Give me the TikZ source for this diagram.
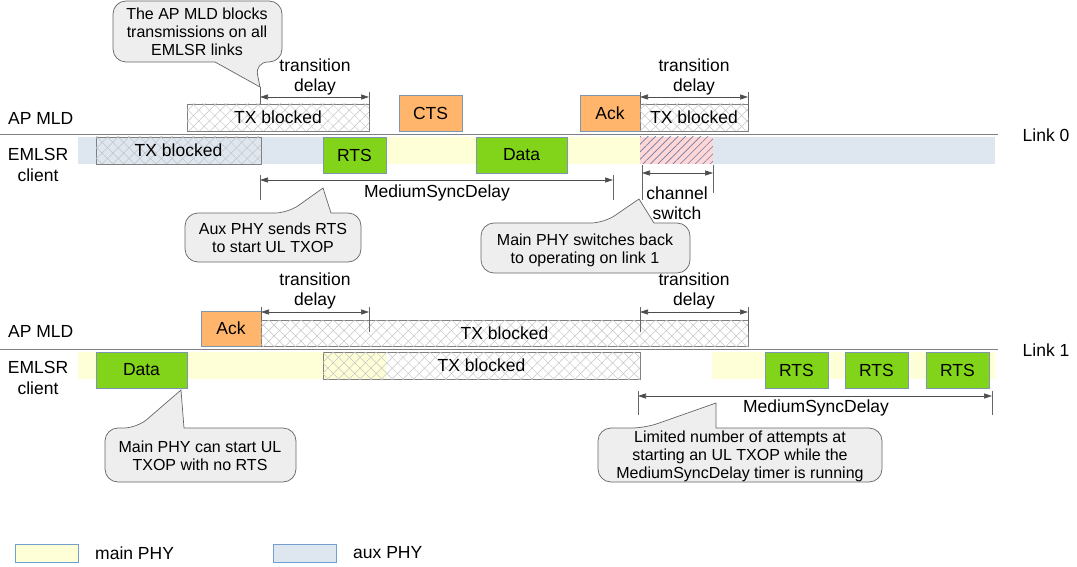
\documentclass[tikz,border=0pt]{standalone}
\usepackage{fontspec}
\setmainfont{Liberation Sans}
\usetikzlibrary{arrows.meta,patterns.meta}
\definecolor{yel}{HTML}{FFFFD7}
\definecolor{blu}{HTML}{DEE6EF}
\definecolor{grn}{HTML}{81D41A}
\definecolor{org}{HTML}{FFB66C}
\definecolor{pnk}{HTML}{FFD7D7}
\definecolor{hatchc}{HTML}{C4C4C4}
\definecolor{edge}{HTML}{808080}
\definecolor{pktedge}{HTML}{7F96B2}
\definecolor{callf}{HTML}{EEEEEE}
\definecolor{calld}{HTML}{666666}
\definecolor{legedge}{HTML}{729FCF}
\definecolor{slash}{HTML}{6A7BA0}
\begin{document}
\begin{tikzpicture}[x=1pt,y=-1pt,
 base/.style={rectangle, inner sep=0pt, outer sep=0pt, anchor=north west, font=\fontsize{17.5}{20.5}\selectfont, align=center},
 wh/.style 2 args={minimum width=#1pt, minimum height=#2pt},
 band/.style={base, draw=none},
 pkt/.style={base, draw=pktedge, line width=0.8pt, fill=grn},
 ctl/.style={base, draw=pktedge, line width=0.8pt, fill=org},
 blocked/.style={base, draw=edge, line width=0.8pt,
   postaction={pattern={Lines[angle=45,distance=7.6pt,line width=0.5pt]},pattern color=hatchc},
   postaction={pattern={Lines[angle=-45,distance=7.6pt,line width=0.5pt]},pattern color=hatchc}},
 switching/.style={base, fill=pnk, postaction={pattern={Lines[angle=45,distance=5.3pt,line width=0.6pt]},pattern color=slash}},
 lbl/.style={font=\fontsize{17.5}{20.5}\selectfont, align=center, inner sep=0pt},
 calltext/.style={font=\fontsize{16}{18}\selectfont, align=center, inner sep=0pt},
 callout/.style={fill=callf, draw=calld, line width=0.7pt, rounded corners=13pt},
 dim/.style={draw=black!70, line width=0.6pt, {Triangle[length=8pt,width=5pt]}-{Triangle[length=8pt,width=5pt]}},
 tickl/.style={draw=black!60, line width=0.6pt},
 divider/.style={draw=edge, line width=1pt},
 legbox/.style={base, draw=legedge, line width=0.8pt},
]
\useasboundingbox (0,0) rectangle (1077,567);

% ---------- dividers and link labels
\coordinate (d0a) at (0,135); \coordinate (d0b) at (998,135);
\coordinate (d1a) at (0,349); \coordinate (d1b) at (998,349);
\draw[divider] (d0a) -- (d0b);
\draw[divider] (d1a) -- (d1b);
\node[lbl] (link0) at (1046,135) {Link 0};
\node[lbl] (link1) at (1046,350) {Link 1};

% ---------- row labels
\node[lbl, anchor=west] (ap0) at (8,118) {AP MLD};
\node[lbl] (em0) at (38,165) {EMLSR\\client};
\node[lbl, anchor=west] (ap1) at (8,331) {AP MLD};
\node[lbl] (em1) at (38,378) {EMLSR\\client};

% ---------- link 0, EMLSR client
\node[band, fill=blu, wh={245}{27}] (b0blue) at (78,137) {};
\node[band, fill=yel, wh={317}{27}] (b0yel) at (323,137) {};
\node[switching, wh={73}{27}] (b0sw) at (640,137) {};
\node[band, fill=blu, wh={282}{27}] (b0blue2) at (713,137) {};
\node[blocked, wh={165}{27}] (blk0c) at (96,137) {TX blocked};
\node[pkt, wh={63}{36}] (rts0) at (323,137) {RTS};
\node[pkt, wh={91}{36}] (data0) at (476,137) {Data};

% ---------- link 0, AP MLD
\node[blocked, wh={182}{27}] (blk0a) at (187,104) {TX blocked};
\node[ctl, wh={63}{36}] (cts0) at (399,95) {CTS};
\node[ctl, wh={60}{36}] (ack0) at (580,95) {Ack};
\node[blocked, wh={108}{27}] (blk0b) at (640,104) {TX blocked};

% ---------- link 1, AP MLD
\node[ctl, wh={60}{35}] (ack1) at (201,311) {Ack};
\node[blocked, wh={487}{26}] (blk1a) at (261,320) {TX blocked};

% ---------- link 1, EMLSR client
\node[band, fill=yel, wh={308}{27}] (b1yel) at (78,352) {};
\node[band, fill=yel, wh={283}{27}] (b1yel2) at (712,352) {};
\node[pkt, wh={91}{36}] (data1) at (96,352) {Data};
\node[blocked, wh={317}{27}] (blk1c) at (323,352) {TX blocked};
\node[pkt, wh={63}{36}] (rts1a) at (765,352) {RTS};
\node[pkt, wh={63}{36}] (rts1b) at (845,352) {RTS};
\node[pkt, wh={63}{36}] (rts1c) at (926,352) {RTS};

% ---------- dimension arrows
\coordinate (tdA1) at (260,97); \coordinate (tdA2) at (369,97);
\draw[tickl] (260,87) -- (260,104);
\draw[tickl] (369,92) -- (369,117);
\draw[dim] (tdA1) -- (tdA2);
\node[lbl] (tdAl) at (315,77) {transition\\delay};

\coordinate (tdB1) at (640,97); \coordinate (tdB2) at (748,97);
\draw[tickl] (640,92) -- (640,104);
\draw[tickl] (748,92) -- (748,117);
\draw[dim] (tdB1) -- (tdB2);
\node[lbl] (tdBl) at (694,77) {transition\\delay};

\coordinate (ms0a) at (260,180); \coordinate (ms0b) at (613,180);
\draw[tickl] (260,175) -- (260,200);
\draw[tickl] (613,175) -- (613,200);
\draw[dim] (ms0a) -- (ms0b);
\node[lbl] (ms0l) at (437,193) {MediumSyncDelay};

\coordinate (cs1) at (642,173); \coordinate (cs2) at (713,173);
\draw[tickl] (642,165) -- (642,200);
\draw[tickl] (713,165) -- (713,193);
\draw[dim] (cs1) -- (cs2);
\node[lbl] (csl) at (677,203) {channel\\switch};

\coordinate (tdC1) at (261,312); \coordinate (tdC2) at (369,312);
\draw[tickl] (261,307) -- (261,320);
\draw[tickl] (369,307) -- (369,332);
\draw[dim] (tdC1) -- (tdC2);
\node[lbl] (tdCl) at (315,291) {transition\\delay};

\coordinate (tdD1) at (640,312); \coordinate (tdD2) at (748,312);
\draw[tickl] (640,307) -- (640,332);
\draw[tickl] (748,307) -- (748,332);
\draw[dim] (tdD1) -- (tdD2);
\node[lbl] (tdDl) at (694,291) {transition\\delay};

\coordinate (ms1a) at (638,396); \coordinate (ms1b) at (992,396);
\draw[tickl] (638,391) -- (638,415);
\draw[tickl] (992,391) -- (992,415);
\draw[dim] (ms1a) -- (ms1b);
\node[lbl] (ms1l) at (816,408) {MediumSyncDelay};

% ---------- callouts
\path[callout] (197,1) -- (282,1) -- (282,62) -- (255,62) [sharp corners] -- (260,87) -- (215,62) [rounded corners=13pt] -- (113,62) -- (113,1) -- cycle;
\node[calltext] (c1) at (197,32) {The AP MLD blocks\\transmissions on all\\EMLSR links};

\path[callout] (273,262) -- (185,262) -- (185,213) -- (288,213) [sharp corners] -- (323,188) -- (331,213) [rounded corners=13pt] -- (361,213) -- (361,262) -- cycle;
\node[calltext] (c2) at (273,238) {Aux PHY sends RTS\\to start UL TXOP};

\path[callout] (585,273) -- (481,273) -- (481,223) -- (604,223) [sharp corners] -- (639,199) -- (654,223) [rounded corners=13pt] -- (690,223) -- (690,273) -- cycle;
\node[calltext] (c3) at (585,250) {Main PHY switches back\\to operating on link 1};

\path[callout] (740,482) -- (598,482) -- (598,428) -- (645,428) [sharp corners] -- (716,403) -- (716,428) [rounded corners=13pt] -- (882,428) -- (882,482) -- cycle;
\node[calltext] (c4) at (740,456) {Limited number of attempts at\\starting an UL TXOP while the\\MediumSyncDelay timer is running};

\path[callout] (200,482) -- (105,482) -- (105,428) -- (137,428) [sharp corners] -- (181,390) -- (184,428) [rounded corners=13pt] -- (296,428) -- (296,482) -- cycle;
\node[calltext] (c5) at (200,456) {Main PHY can start UL\\TXOP with no RTS};

% ---------- legend
\node[legbox, fill=yel, wh={63}{18}] (legm) at (15,544) {};
\node[lbl, anchor=west] (legmt) at (95,553) {main PHY};
\node[legbox, fill=blu, wh={63}{18}] (lega) at (273,544) {};
\node[lbl, anchor=west] (legat) at (353,553) {aux PHY};
\end{tikzpicture}
\end{document}
